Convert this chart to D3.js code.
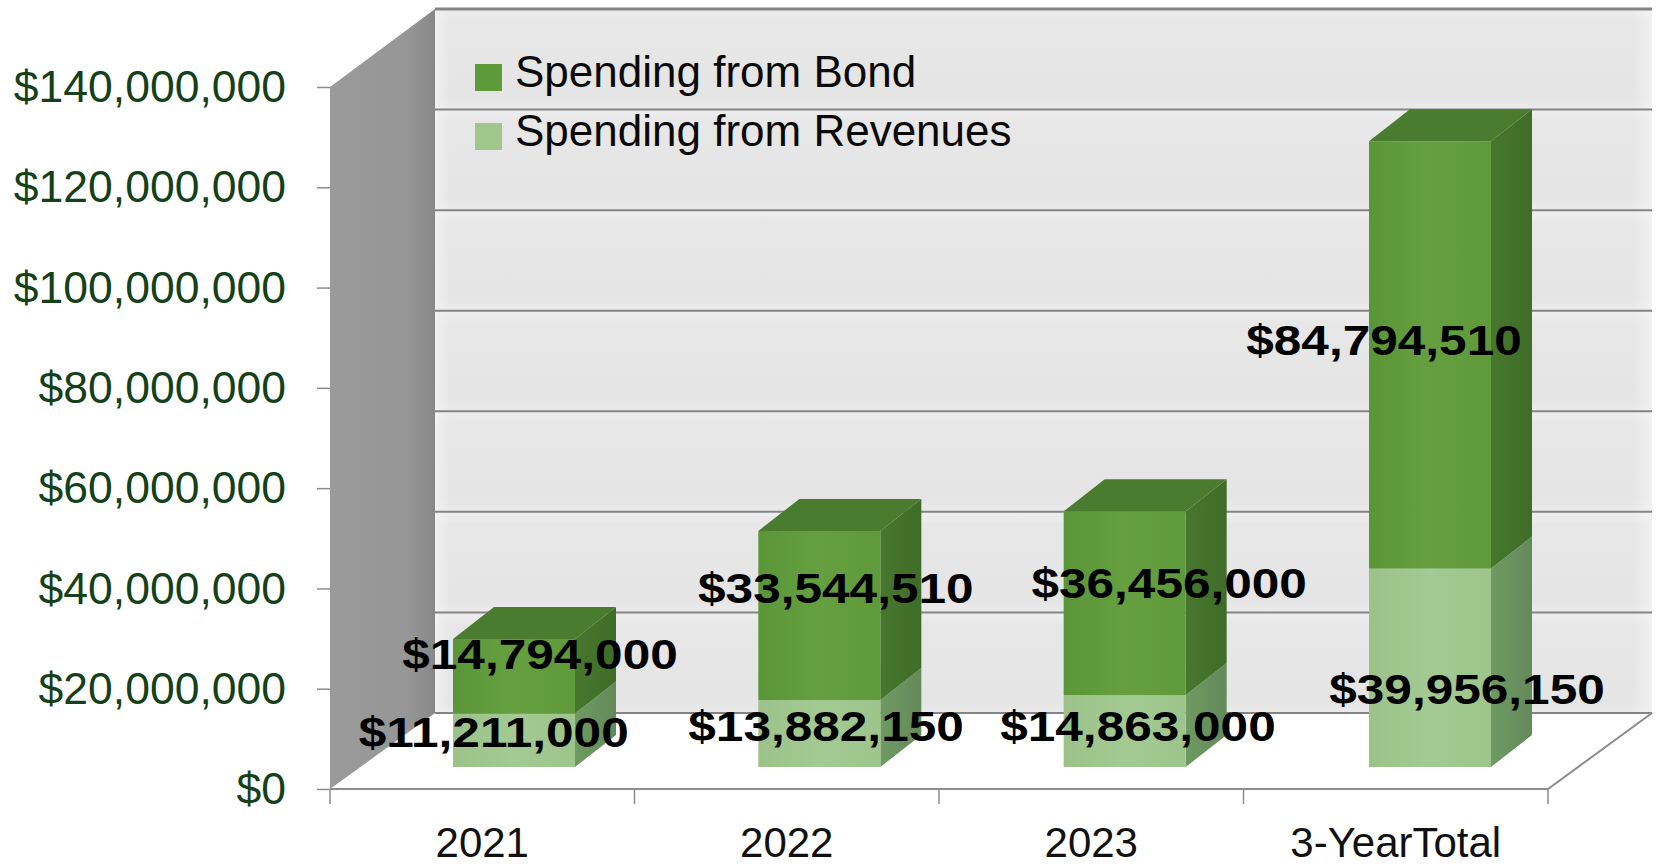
<!DOCTYPE html>
<html><head><meta charset="utf-8">
<style>html,body{margin:0;padding:0;background:#fff}svg{display:block}
text{font-family:"Liberation Sans",Arial,sans-serif}</style>
<script src="https://cdn.jsdelivr.net/npm/d3@7/dist/d3.min.js"></script>
</head><body><svg id="c" width="1656" height="866"></svg>
<script>
const categories = ["2021","2022","2023","3-YearTotal"];
const revenueValues = [11211000,13882150,14863000,39956150];
const bondValues = [14794000,33544510,36456000,84794510];
const yTickValues = [0,20e6,40e6,60e6,80e6,100e6,120e6,140e6];
const seriesNames = ["Spending from Bond","Spending from Revenues"];

// layout (not data)
const L = {x0:330,x1:1548,yFront:789,yTop:87,wallBottom:713,wallTop:9,wallDx:105,barFloor:767,barZero:770,barSpan:705.6,barDx:41,barDy:-32,barLeft:453,barStep:305.33,barW:122};
// label nudges relative to each bar segment: [dx from bar centre, baseline offset from segment top]
const bondLabelNudge = [[26,30],[16.5,72],[44.5,87],[-46,214]];
const revLabelNudge = [[-20.3,33.5],[6.7,41],[13.3,46],[37,135]];

const svg = d3.select("#c");
const defs = svg.append("defs");
function grad(id,x2,y2,stops){
  const g=defs.append("linearGradient").attr("id",id).attr("x1",0).attr("y1",0).attr("x2",x2).attr("y2",y2);
  stops.forEach(s=>{const st=g.append("stop").attr("offset",s[0]).attr("stop-color",s[1]); if(s[2]!==undefined) st.attr("stop-opacity",s[2]);});
}
grad("gBand",0,1,[[0,"#efefef"],[0.12,"#e7e7e7"],[0.88,"#e5e5e5"],[1,"#ebebeb"]]);
grad("gEdge",1,0,[[0,"#f2f2f2",0.9],[0.012,"#f2f2f2",0],[0.985,"#f2f2f2",0],[1,"#f2f2f2",0.9]]);
grad("gLeft",1,0,[[0,"#9a9a9a"],[0.75,"#969696"],[1,"#888888"]]);
grad("gDark",1,0,[[0,"#5a9638"],[0.5,"#659f40"],[1,"#5f9a3a"]]);
grad("gLight",1,0,[[0,"#9cc28a"],[0.5,"#a3ca92"],[1,"#9dc48b"]]);
grad("gDarkSide",1,0,[[0,"#47782e"],[1,"#3f6c28"]]);
grad("gLightSide",1,0,[[0,"#6f9a62"],[1,"#64895a"]]);

const y = d3.scaleLinear().domain([0,140e6]).range([L.yFront,L.yTop]);
const barY = d3.scaleLinear().domain([0,140e6]).range([L.barZero,L.barZero-L.barSpan]);
const wallY = d3.scaleLinear().domain([0,140e6]).range([L.wallBottom,L.wallTop]);
const x = d3.scaleBand().domain(categories).range([L.x0,L.x1]);
const barX = d3.scaleBand().domain(categories).range([L.barLeft,L.barLeft+4*L.barStep]);
const poly = d3.line();

// walls and floor
const xR=L.x1, xB0=L.x0+L.wallDx, xB1=L.x1+L.wallDx-1;
svg.append("path").attr("d",poly([[L.x0,y(0)],[xR,y(0)],[xB1,wallY(0)],[xB0,wallY(0)]])+"Z").attr("fill","#fff");
svg.append("g").selectAll("rect").data(yTickValues.slice(1)).join("rect")
  .attr("x",xB0).attr("width",xB1-xB0).attr("y",d=>wallY(d)).attr("height",d=>wallY(d-20e6)-wallY(d)).attr("fill","url(#gBand)");
svg.append("rect").attr("x",xB0).attr("y",wallY(140e6)).attr("width",xB1-xB0).attr("height",wallY(0)-wallY(140e6)).attr("fill","url(#gEdge)");
svg.append("path").attr("d",poly([[L.x0,y(0)],[L.x0,y(140e6)],[xB0,wallY(140e6)],[xB0,wallY(0)]])+"Z").attr("fill","url(#gLeft)");
// back wall gridlines
svg.append("g").selectAll("line").data(yTickValues).join("line")
  .attr("x1",xB0).attr("x2",xB1).attr("y1",d=>wallY(d)).attr("y2",d=>wallY(d))
  .attr("stroke","#848484").attr("stroke-width",d=>d===140e6?3:2);
// floor front and right edges
svg.append("path").attr("d",poly([[L.x0,y(0)],[xR,y(0)],[xB1,wallY(0)]])).attr("fill","none").attr("stroke","#8c8c8c").attr("stroke-width",2);

// bars
const stack = categories.map((c,i)=>({c,rev:revenueValues[i],bond:bondValues[i],total:revenueValues[i]+bondValues[i],i}));
const bars = svg.append("g").selectAll("g").data(stack).join("g");
const bx = d=>barX(d.c), barW=L.barW;
function side(d,yA,yB){const X=bx(d)+barW;return poly([[X,yA],[X+L.barDx,yA+L.barDy],[X+L.barDx,yB+L.barDy],[X,yB]])+"Z";}
bars.append("path").attr("d",d=>side(d,L.barFloor,barY(d.rev))).attr("fill","url(#gLightSide)");
bars.append("path").attr("d",d=>side(d,barY(d.rev),barY(d.total))).attr("fill","url(#gDarkSide)");
bars.append("rect").attr("x",bx).attr("width",barW).attr("y",d=>barY(d.rev)).attr("height",d=>L.barFloor-barY(d.rev)).attr("fill","url(#gLight)");
bars.append("rect").attr("x",bx).attr("width",barW).attr("y",d=>barY(d.total)).attr("height",d=>barY(d.rev)-barY(d.total)).attr("fill","url(#gDark)");
bars.append("path").attr("d",d=>poly([[bx(d),barY(d.total)],[bx(d)+L.barDx,barY(d.total)+L.barDy],[bx(d)+barW+L.barDx,barY(d.total)+L.barDy],[bx(d)+barW,barY(d.total)]])+"Z").attr("fill","#4a7c2f");

// y axis
const yAxis = svg.append("g").attr("transform",`translate(${L.x0},0)`)
  .call(d3.axisLeft(y).tickValues(yTickValues).tickSize(13).tickPadding(31).tickFormat(d3.format("$,")));
yAxis.select(".domain").remove();
yAxis.selectAll("line").attr("stroke","#8c8c8c").attr("stroke-width",1.5);
yAxis.selectAll("text").attr("fill","#14401a").style("font-size","44.5px").attr("dy","0.33em");

// x axis
const xAxis = svg.append("g").attr("transform",`translate(0,${L.yFront})`)
  .call(d3.axisBottom(x).tickSize(0).tickPadding(38));
xAxis.select(".domain").remove();
xAxis.selectAll("text").attr("fill","#111").style("font-size","42px").attr("dy","0.71em");
svg.append("g").selectAll("line").data(categories.concat("end")).join("line")
  .attr("x1",d=>d==="end"?L.x1:x(d)).attr("x2",d=>d==="end"?L.x1:x(d))
  .attr("y1",L.yFront).attr("y2",L.yFront+15).attr("stroke","#8c8c8c").attr("stroke-width",1.5);

// data labels
const fmt = d3.format("$,");
function lab(val,px,py){
  svg.append("text").attr("transform",`translate(${px},${py}) scale(1.18,1)`).attr("text-anchor","middle")
    .attr("font-weight","bold").style("font-size","42px").attr("fill","#000").text(fmt(val));
}
stack.forEach((d,i)=>{
  const cx=bx(d)+barW/2;
  lab(d.bond,cx+bondLabelNudge[i][0],barY(d.total)+bondLabelNudge[i][1]);
  lab(d.rev,cx+revLabelNudge[i][0],barY(d.rev)+revLabelNudge[i][1]);
});

// legend
const lg = svg.append("g").selectAll("g").data(seriesNames).join("g")
  .attr("transform",(d,i)=>`translate(475,${64+i*59})`);
lg.append("rect").attr("width",27).attr("height",27).attr("fill",(d,i)=>i?"#a0c68e":"#5f9a3a");
lg.append("text").attr("x",40).attr("y",23).style("font-size","44px").attr("fill","#0a0a0a").text(d=>d);
</script></body></html>
